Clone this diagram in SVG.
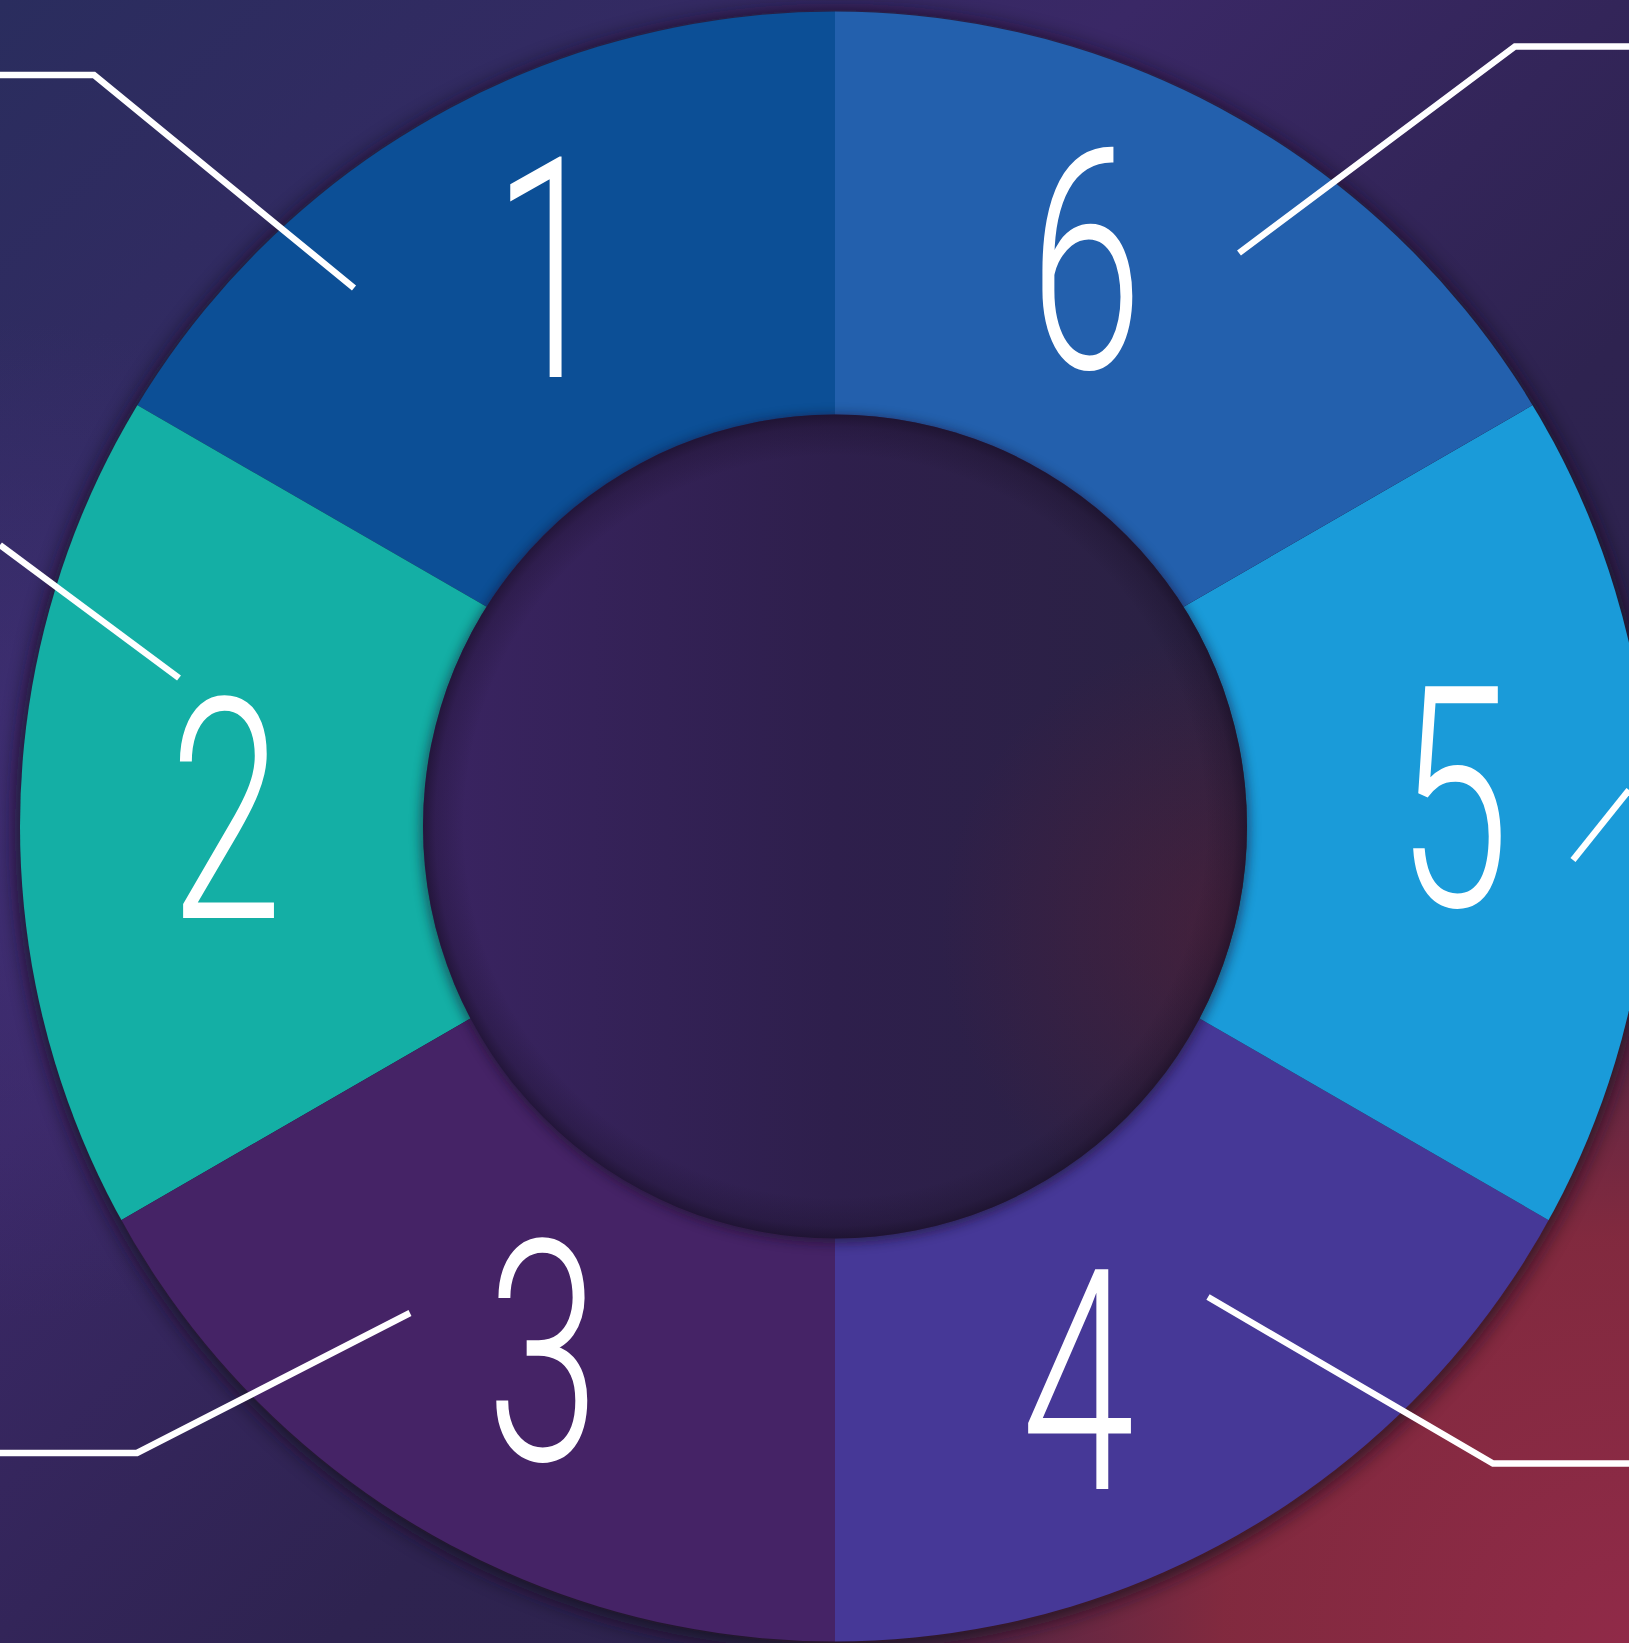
<svg xmlns="http://www.w3.org/2000/svg" width="1629" height="1643" viewBox="0 0 1629 1643">
  <defs>
    <linearGradient id="bg" x1="0" y1="0" x2="1" y2="1">
      <stop offset="0" stop-color="#2a2d5e"/>
      <stop offset="0.35" stop-color="#3a2866"/>
      <stop offset="0.6" stop-color="#2e2350"/>
      <stop offset="1" stop-color="#2c2248"/>
    </linearGradient>
    <radialGradient id="bgRed" cx="1629" cy="1643" r="900" gradientUnits="userSpaceOnUse">
      <stop offset="0" stop-color="#902a48" stop-opacity="1"/>
      <stop offset="0.45" stop-color="#862a3e" stop-opacity="0.95"/>
      <stop offset="1" stop-color="#862a3e" stop-opacity="0"/>
    </radialGradient>
    <radialGradient id="bgLeft" cx="0" cy="820" r="500" gradientUnits="userSpaceOnUse">
      <stop offset="0" stop-color="#44307a" stop-opacity="0.7"/>
      <stop offset="1" stop-color="#44307a" stop-opacity="0"/>
    </radialGradient>
    <linearGradient id="innerFill" x1="0" y1="0" x2="1" y2="0">
      <stop offset="0" stop-color="#3a2462"/>
      <stop offset="0.5" stop-color="#2e1f4c"/>
      <stop offset="1" stop-color="#2a2242"/>
    </linearGradient>
    <radialGradient id="innerRed" cx="1240" cy="930" r="300" gradientUnits="userSpaceOnUse">
      <stop offset="0" stop-color="#5a2035" stop-opacity="0.55"/>
      <stop offset="1" stop-color="#5a2035" stop-opacity="0"/>
    </radialGradient>
    <radialGradient id="innerRim" cx="835" cy="826.5" r="412" gradientUnits="userSpaceOnUse">
      <stop offset="0.9" stop-color="#150c22" stop-opacity="0"/>
      <stop offset="0.97" stop-color="#150c22" stop-opacity="0.25"/>
      <stop offset="1" stop-color="#150c22" stop-opacity="0.6"/>
    </radialGradient>
    <clipPath id="disk">
      <circle cx="835" cy="826.5" r="815"/>
    </clipPath>
    <clipPath id="innerClip">
      <circle cx="835" cy="826.5" r="412"/>
    </clipPath>
    <filter id="shadow" x="-20%" y="-20%" width="140%" height="140%">
      <feGaussianBlur stdDeviation="10"/>
    </filter>
    <filter id="shadowSmall" x="-20%" y="-20%" width="140%" height="140%">
      <feGaussianBlur stdDeviation="6"/>
    </filter>
    <style>
      .num { font-family: Roboto, "Open Sans", "Liberation Sans", sans-serif; font-weight: 300; font-size: 309px; fill: #ffffff; text-anchor: middle; }
      .conn { fill: none; stroke: #ffffff; stroke-width: 6.5; stroke-linejoin: miter; stroke-linecap: butt; }
    </style>
  </defs>

  <!-- background -->
  <rect x="0" y="0" width="1629" height="1643" fill="url(#bg)"/>
  <rect x="0" y="0" width="1629" height="1643" fill="url(#bgLeft)"/>
  <rect x="0" y="0" width="1629" height="1643" fill="url(#bgRed)"/>

  <!-- outer shadow -->
  <circle cx="835" cy="830" r="820" fill="#120a1e" opacity="0.75" filter="url(#shadow)"/>

  <g clip-path="url(#disk)">
    <g id="node-1">
      <polygon points="835,808 835,-392 -204,-392 -204,208" fill="#0c4f96"/>
    </g>
    <g id="node-2">
      <polygon points="835,808 -204,208 -204,1408" fill="#14afa5"/>
    </g>
    <g id="node-3">
      <polygon points="835,808 -204,1408 -204,2008 835,2008" fill="#452366"/>
    </g>
    <g id="node-4">
      <polygon points="835,808 835,2008 1874,2008 1874,1408" fill="#463897"/>
    </g>
    <g id="node-5">
      <polygon points="835,808 1874,1408 1874,208" fill="#1a9bd9"/>
    </g>
    <g id="node-6">
      <polygon points="835,808 1874,208 1874,-392 835,-392" fill="#2360ad"/>
    </g>
  </g>

  <!-- inner circle -->
  <g id="center">
    <circle cx="835" cy="829" r="414" fill="#140a20" opacity="0.55" filter="url(#shadowSmall)"/>
    <circle cx="835" cy="826.5" r="412" fill="url(#innerFill)"/>
    <circle cx="835" cy="826.5" r="412" fill="url(#innerRed)"/>
    <circle cx="835" cy="826.5" r="412" fill="url(#innerRim)"/>
  </g>

  <!-- labels -->
  <g id="label-1"><text class="num" transform="translate(549,377) scale(0.66,1)">1</text></g>
  <g id="label-2"><text class="num" transform="translate(226,918) scale(0.66,1)">2</text></g>
  <g id="label-3"><text class="num" transform="translate(543,1460) scale(0.66,1)">3</text></g>
  <g id="label-4"><text class="num" transform="translate(1078,1489) scale(0.66,1)">4</text></g>
  <g id="label-5"><text class="num" transform="translate(1453,906) scale(0.66,1)">5</text></g>
  <g id="label-6"><text class="num" transform="translate(1086,368) scale(0.66,1)">6</text></g>

  <!-- connectors -->
  <g id="connectors">
    <polyline class="conn" points="0,75 94,75 354,288"/>
    <polyline class="conn" points="0,545 179,678"/>
    <polyline class="conn" points="0,1453 137,1453 410,1313"/>
    <polyline class="conn" points="1629,1463.5 1493,1463.5 1208,1297"/>
    <polyline class="conn" points="1629,790 1573,860"/>
    <polyline class="conn" points="1629,46.5 1515,46.5 1239,253"/>
  </g>
</svg>
